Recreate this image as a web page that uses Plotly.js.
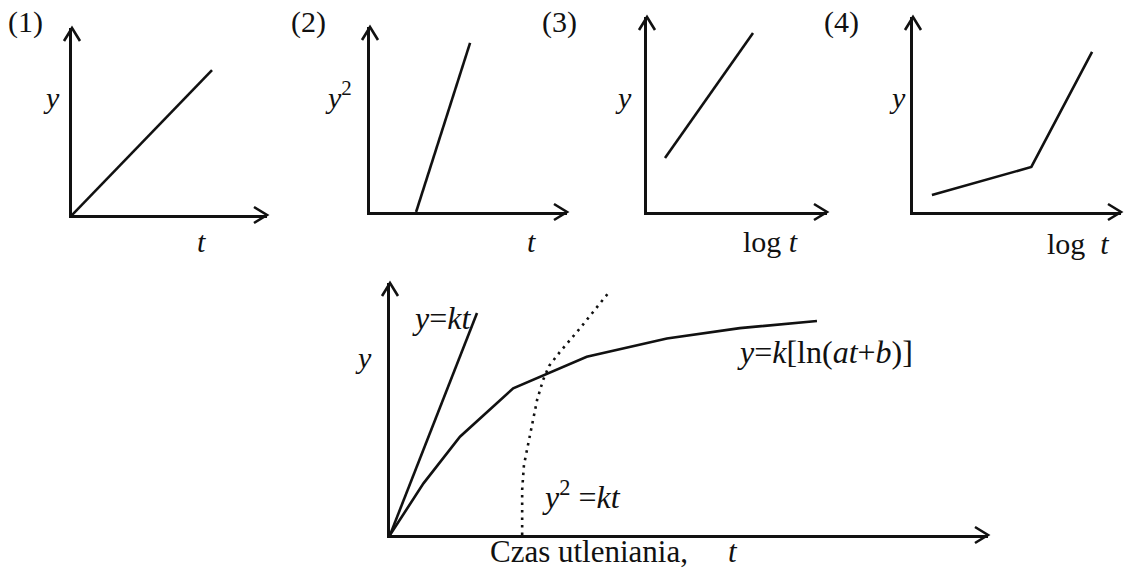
<!DOCTYPE html>
<html>
<head>
<meta charset="utf-8">
<script src="https://cdn.plot.ly/plotly-3.0.1.min.js"></script>
<style>html,body{margin:0;padding:0;background:#fff;}#chart{width:1124px;height:576px;}</style>
</head>
<body>
<div id="chart"></div>
<script>
// ---- data (schematic units, each panel axis runs 0..10) ----
const axisRange = [0, 10];

// (1) y vs t  : linear
const p1_t = [0, 7.18];
const p1_y = [0, 7.75];
// (2) y^2 vs t : parabolic (starts after incubation)
const p2_t = [2.34, 5.08];
const p2_y2 = [0, 9.14];
// (3) y vs log t : logarithmic
const p3_logt = [1.0, 5.89];
const p3_y = [2.77, 9.18];
// (4) y vs log t : two-stage
const p4_logt = [0.91, 5.69, 8.61];
const p4_y = [0.87, 2.31, 8.21];
// main: oxidation time
const lin_t = [0, 1.455];
const lin_y = [0, 8.81];
const log_t = [0, 0.56, 1.17, 2.06, 3.29, 4.63, 5.85, 7.14];
const log_y = [0, 2.05, 3.90, 5.82, 7.07, 7.80, 8.21, 8.49];
const par_t = [2.21, 2.21, 2.24, 2.31, 2.37, 2.46, 2.56, 2.66, 2.84, 3.18, 3.65];
const par_y = [0, 1.79, 2.78, 3.57, 4.37, 5.36, 6.15, 6.71, 7.26, 8.21, 9.60];

// ---- layout helpers ----
const W = 1124, H = 576;
const px = v => v / W;
const py = v => 1 - v / H;
const FONT = '"Liberation Serif", "Times New Roman", Times, serif';
const INK = '#111';
const LW = 2.6;

// panel frames in pixels: origin (ox,oy), x-arrow tip xt, y-arrow tip yt
const frames = [
  {ox: 72,  oy: 215, xt: 267,  yt: 28},
  {ox: 370, oy: 212, xt: 567,  yt: 27},
  {ox: 647, oy: 212, xt: 827,  yt: 17},
  {ox: 913, oy: 212, xt: 1121, yt: 17},
  {ox: 390, oy: 535, xt: 988,  yt: 283}
];

const layout = {
  width: W, height: H,
  margin: {l: 0, r: 0, t: 0, b: 0},
  paper_bgcolor: '#fff', plot_bgcolor: 'rgba(0,0,0,0)',
  showlegend: false,
  shapes: [], annotations: []
};

frames.forEach((f, i) => {
  const n = i === 0 ? '' : String(i + 1);
  const common = {
    range: axisRange.slice(),
    showgrid: false, zeroline: false, showticklabels: false, ticks: '',
    showline: true, linecolor: INK, linewidth: LW, mirror: false,
    fixedrange: true
  };
  layout['xaxis' + n] = Object.assign({domain: [px(f.ox), px(f.xt)], anchor: 'y' + n}, common);
  layout['yaxis' + n] = Object.assign({domain: [py(f.oy), py(f.yt)], anchor: 'x' + n}, common);
  // chevron arrowheads at the axis tips (paper-referenced so they are not clipped)
  layout.shapes.push({
    type: 'path', xref: 'paper', yref: 'paper',
    xsizemode: 'pixel', ysizemode: 'pixel',
    xanchor: px(f.xt), yanchor: py(f.oy),
    path: 'M-13,8 L0,0 L-13,-8',
    line: {color: INK, width: LW}
  });
  layout.shapes.push({
    type: 'path', xref: 'paper', yref: 'paper',
    xsizemode: 'pixel', ysizemode: 'pixel',
    xanchor: px(f.ox), yanchor: py(f.yt),
    path: 'M-8,-13 L0,0 L8,-13',
    line: {color: INK, width: LW}
  });
});

const solid = {color: INK, width: LW};
const traces = [
  {x: p1_t, y: p1_y, xaxis: 'x', yaxis: 'y', mode: 'lines', line: solid},
  {x: p2_t, y: p2_y2, xaxis: 'x2', yaxis: 'y2', mode: 'lines', line: solid},
  {x: p3_logt, y: p3_y, xaxis: 'x3', yaxis: 'y3', mode: 'lines', line: solid},
  {x: p4_logt, y: p4_y, xaxis: 'x4', yaxis: 'y4', mode: 'lines', line: solid},
  {x: lin_t, y: lin_y, xaxis: 'x5', yaxis: 'y5', mode: 'lines', line: solid},
  {x: log_t, y: log_y, xaxis: 'x5', yaxis: 'y5', mode: 'lines', line: solid},
  {x: par_t, y: par_y, xaxis: 'x5', yaxis: 'y5', mode: 'lines',
   line: {color: INK, width: 2.6, dash: '2.5px,5px'}}
];
traces.forEach(t => { t.hoverinfo = 'skip'; t.cliponaxis = false; });

// text labels: [text, centre x px, centre y px, font size]
const labels = [
  ['(1)', 26, 22, 30], ['(2)', 308, 22, 30], ['(3)', 559, 22, 30], ['(4)', 841, 22, 30],
  ['<i>y</i>', 51, 97, 30], ['<i>t</i>', 201, 242, 30],
  ['<i>y</i><sup>2</sup>', 338, 95, 30], ['<i>t</i>', 531, 242, 30],
  ['<i>y</i>', 623, 97, 30], ['log <i>t</i>', 770, 242, 30],
  ['<i>y</i>', 897, 97, 30], ['log  <i>t</i>', 1078, 243, 30],
  ['<i>y</i>', 363, 357, 30],
  ['<i>y</i>=<i>kt</i>', 441, 318, 32],
  ['<i>y</i><sup>2</sup> =<i>kt</i>', 581, 495, 32],
  ['<i>y</i>=<i>k</i>[ln(<i>at</i>+<i>b</i>)]', 825, 352, 32],
  ['Czas utleniania,', 589, 551, 31],
  ['<i>t</i>', 733, 551, 31]
];
labels.forEach(([txt, x, y, s]) => {
  layout.annotations.push({
    text: txt, xref: 'paper', yref: 'paper', x: px(x), y: py(y),
    xanchor: 'center', yanchor: 'middle', showarrow: false,
    font: {family: FONT, size: s, color: INK}
  });
});

Plotly.newPlot('chart', traces, layout, {displayModeBar: false, staticPlot: true});
</script>
</body>
</html>
